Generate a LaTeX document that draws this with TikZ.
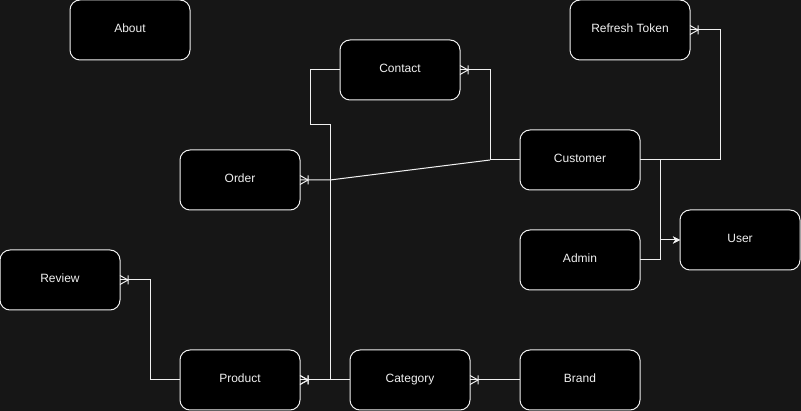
\documentclass[tikz,border=0pt]{standalone}
\usepackage{fontspec}
\setmainfont{Liberation Sans}
\usepackage{tikz}
\usetikzlibrary{arrows.meta, positioning}

\definecolor{canvas}{HTML}{161616}
\definecolor{ink}{HTML}{F0F0F0}

% crow's foot with a bar: "one or many"
\pgfdeclarearrow{
  name = Crow,
  parameters = {\the\pgfarrowlength,\the\pgfarrowwidth},
  setup code = {
    \pgfarrowssettipend{0pt}
    \pgfarrowssetlineend{0pt}
    \pgfarrowssetbackend{-\pgfarrowlength}
    \pgfarrowssavethe\pgfarrowlength
    \pgfarrowssavethe\pgfarrowwidth
  },
  drawing code = {
    \pgfsetdash{}{0pt}
    \pgfpathmoveto{\pgfqpoint{0pt}{.5\pgfarrowwidth}}
    \pgfpathlineto{\pgfqpoint{-\pgfarrowlength}{0pt}}
    \pgfpathlineto{\pgfqpoint{0pt}{-.5\pgfarrowwidth}}
    \pgfpathmoveto{\pgfqpoint{-\pgfarrowlength}{.5\pgfarrowwidth}}
    \pgfpathlineto{\pgfqpoint{-\pgfarrowlength}{-.5\pgfarrowwidth}}
    \pgfusepathqstroke
  },
  defaults = {length=8pt, width=9pt}
}

\begin{document}
\begin{tikzpicture}[
				x=1pt, y=-1pt,
				entity/.style={
					rectangle,
					draw=ink,
					fill=black,
					text=ink,
					minimum width=120pt,
					minimum height=60pt,
					inner sep=0pt,
					outer sep=0pt,
					text height=8.4pt,
					text depth=3pt,
					rounded corners=10pt,
					font=\fontsize{12}{14}\selectfont,
					line width=1pt
				},
				link/.style={
					draw=ink,
					line width=1pt
				},
				many/.style={link, -{Crow[length=8pt, width=9pt]}},
				isa/.style={link, -{Stealth[length=7pt, width=7pt]}}
				]
				
				% Canvas
				\useasboundingbox (0,0) rectangle (801,411);
				\fill[canvas] (0,0) rectangle (801,411);
				
				% Entities: top row
				\node[entity] (about) at (130,30) {About};
				\node[entity] (refresh) at (630,30) {Refresh Token};
				\node[entity] (contact) at (400,70) {Contact};
				
				% Entities: middle
				\node[entity] (order) at (240,180) {Order};
				\node[entity] (customer) at (580,160) {Customer};
				\node[entity, below=40pt of customer] (admin) {Admin};
				\node[entity] (user) at (740,240) {User};
				\node[entity] (review) at (60,280) {Review};
				
				% Entities: bottom row
				\node[entity] (product) at (240,380) {Product};
				\node[entity, right=50pt of product] (category) {Category};
				\node[entity, right=50pt of category] (brand) {Brand};
				
				% Bend points
				\coordinate (split) at (490,160);
				\coordinate (kink) at (330,180);
				
				% Customer relations
				\draw[many] (customer.west) -- (split) |- (contact.east);
				\draw[many] (split) -- (kink) -- (order.east);
				\draw[many] (customer.east) -- ++(80,0) |- (refresh.east);
				
				% Customer and Admin are users
				\draw[isa] (customer.east) -- ++(20,0) |- (user.west);
				\draw[isa] (admin.east) -- ++(20,0) |- (user.west);
				
				% Product relations
				\draw[many] (product.west) -- ++(-30,0) |- (review.east);
				\draw[many] (category.west) -- (product.east);
				\draw[many] (contact.west) -- ++(-30,0) -- ++(0,55) -- ++(20,0) |- (product.east);
				\draw[many] (brand.west) -- (category.east);
				
			\end{tikzpicture}
\end{document}
